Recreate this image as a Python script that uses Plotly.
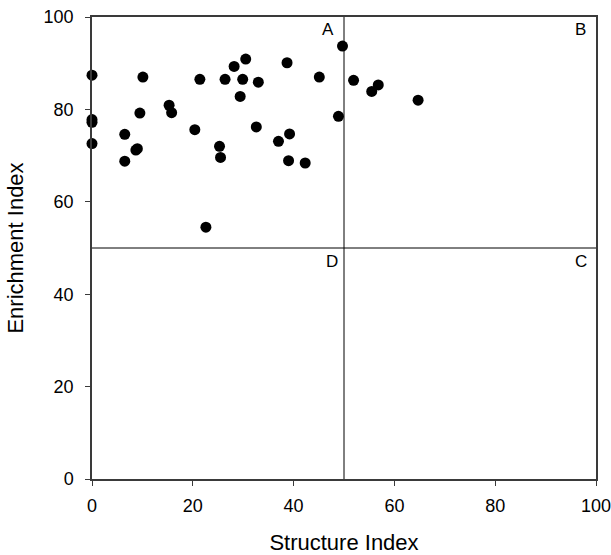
import plotly.graph_objects as go

structure_index = [0, 0, 0, 0, 6.5, 6.5, 8.7, 9.0, 10.1, 9.5, 15.3, 15.8, 20.4, 21.4,
                   22.6, 25.3, 25.5, 26.4, 28.2, 29.9, 29.4, 30.5, 33.0, 32.6, 37.0,
                   38.7, 39.2, 39.0, 42.3, 45.1, 48.9, 49.7, 51.9, 55.5, 56.8, 64.7]
enrichment_index = [87.4, 77.8, 77.2, 72.6, 74.6, 68.8, 71.2, 71.5, 87.0, 79.2, 80.9, 79.3,
                    75.6, 86.5, 54.5, 72.0, 69.6, 86.5, 89.3, 86.5, 82.8, 90.9, 85.9, 76.2,
                    73.1, 90.1, 74.7, 68.9, 68.4, 87.0, 78.5, 93.7, 86.3, 83.9, 85.3, 82.0]

quadrant_labels = ["A", "B", "C", "D"]
quadrant_x = [46.8, 97.0, 97.0, 47.6]
quadrant_y = [97.2, 97.2, 47.0, 47.0]

font_family = "Liberation Sans, Arial, sans-serif"

fig = go.Figure()
fig.add_trace(go.Scatter(
    x=structure_index, y=enrichment_index, mode="markers",
    marker=dict(size=11, color="black"),
    cliponaxis=False, showlegend=False,
))

fig.add_shape(type="line", x0=50, x1=50, y0=0, y1=100, xref="x", yref="y",
              line=dict(color="black", width=1))
fig.add_shape(type="line", x0=0, x1=100, y0=50, y1=50, xref="x", yref="y",
              line=dict(color="black", width=1))

for lab, lx, ly in zip(quadrant_labels, quadrant_x, quadrant_y):
    fig.add_annotation(x=lx, y=ly, text=lab, showarrow=False,
                       font=dict(size=17, color="black", family=font_family))

axis_common = dict(
    showgrid=False, zeroline=False, showline=True, linecolor="#3a3a3a", linewidth=1.5,
    mirror=True, ticks="outside", ticklen=5, tickwidth=1.2, tickcolor="#3a3a3a",
    tickfont=dict(size=18, color="black", family=font_family),
    dtick=20, automargin=False, ticklabeloverflow="allow",
)

fig.update_xaxes(range=[0, 100], ticklabelstandoff=5,
                 title=dict(text="Structure Index", standoff=21,
                            font=dict(size=22, color="black", family=font_family)),
                 **axis_common)
fig.update_yaxes(range=[0, 100], ticklabelstandoff=8,
                 title=dict(text="Enrichment Index", standoff=14,
                            font=dict(size=22, color="black", family=font_family)),
                 **axis_common)

fig.update_layout(
    width=611, height=555,
    margin=dict(l=92, r=15, t=17, b=76),
    plot_bgcolor="white", paper_bgcolor="white",
    font=dict(family=font_family),
)

fig.write_html("out.html", config={"displayModeBar": False},
               post_script="document.body.style.margin='0px';document.body.style.overflow='hidden';")
